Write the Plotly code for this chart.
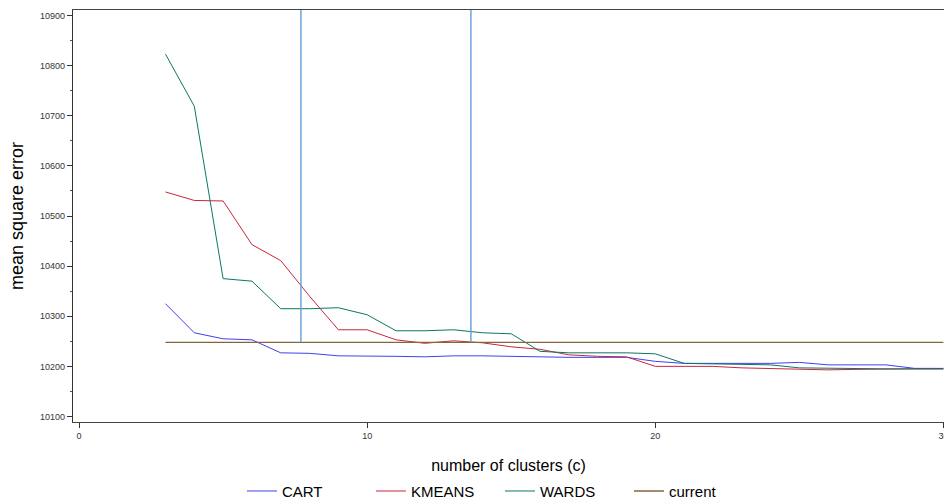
import plotly.graph_objects as go

clusters = list(range(3, 31))
cart = [10325, 10267, 10255, 10253, 10227, 10226, 10221, 10221, 10220, 10219,
        10221, 10221, 10220, 10218, 10218, 10218, 10218, 10210, 10206, 10206,
        10206, 10206, 10208, 10203, 10203, 10203, 10196, 10196]
kmeans = [10548, 10531, 10530, 10443, 10411, 10340, 10273, 10273, 10253, 10246,
          10251, 10247, 10239, 10234, 10223, 10220, 10219, 10200, 10200, 10200,
          10197, 10196, 10195, 10193, 10194, 10195, 10195, 10195]
wards = [10823, 10719, 10375, 10370, 10315, 10315, 10317, 10303, 10271, 10271,
         10273, 10267, 10265, 10230, 10227, 10227, 10227, 10225, 10206, 10205,
         10204, 10203, 10197, 10196, 10196, 10195, 10195, 10195]
current_value = 10248
current_x = [3, 30]
vline_x = [7.7, 13.6]
y_top = 10911

x_ticks = [0, 10, 20, 30]
y_ticks = [10100, 10200, 10300, 10400, 10500, 10600, 10700, 10800, 10900]

FONT = "Liberation Sans, Arial, sans-serif"

fig = go.Figure()
fig.add_trace(go.Scatter(x=clusters, y=cart, mode="lines", name="CART",
                         line=dict(color="#4040f0", width=1)))
fig.add_trace(go.Scatter(x=clusters, y=kmeans, mode="lines", name="KMEANS",
                         line=dict(color="#c8283c", width=1)))
fig.add_trace(go.Scatter(x=clusters, y=wards, mode="lines", name="WARDS",
                         line=dict(color="#0c7565", width=1)))
fig.add_trace(go.Scatter(x=current_x, y=[current_value] * len(current_x), mode="lines",
                         name="current", line=dict(color="#86653e", width=1.3)))
for vx in vline_x:
    fig.add_trace(go.Scatter(x=[vx, vx], y=[current_value, y_top], mode="lines",
                             showlegend=False, hoverinfo="skip",
                             line=dict(color="#6fa3dc", width=1.5)))

fig.update_layout(
    width=944, height=501,
    margin=dict(l=73, r=0, t=10, b=79, autoexpand=False),
    paper_bgcolor="white", plot_bgcolor="white",
    font=dict(family=FONT, color="#000"),
    showlegend=True,
    legend=dict(orientation="h", x=0.194, xanchor="left", y=-0.128, yanchor="top",
                font=dict(size=15, color="#000"), entrywidth=84, itemwidth=30,
                bgcolor="rgba(0,0,0,0)"),
    xaxis=dict(range=[-0.21, 30.02], tickvals=x_ticks, ticks="outside", ticklen=5,
               tickcolor="#333", tickfont=dict(size=9, color="#333"),
               ticklabeloverflow="allow",
               showgrid=False, zeroline=False, showline=True, linecolor="#444",
               linewidth=1.3, mirror=True, automargin=False,
               title=dict(text="number of clusters (c)", font=dict(size=16), standoff=19)),
    yaxis=dict(range=[10089, y_top], tickvals=y_ticks, tickformat="d",
               ticks="outside", ticklen=5,
               tickcolor="#333", tickfont=dict(size=9, color="#333"),
               minor=dict(dtick=50, ticks="outside", ticklen=2, tickcolor="#555"),
               showgrid=False, zeroline=False, showline=True, linecolor="#333",
               linewidth=1.3, automargin=False,
               title=dict(text="mean square error", font=dict(size=18), standoff=11)),
)

fig.write_html("out.html")
